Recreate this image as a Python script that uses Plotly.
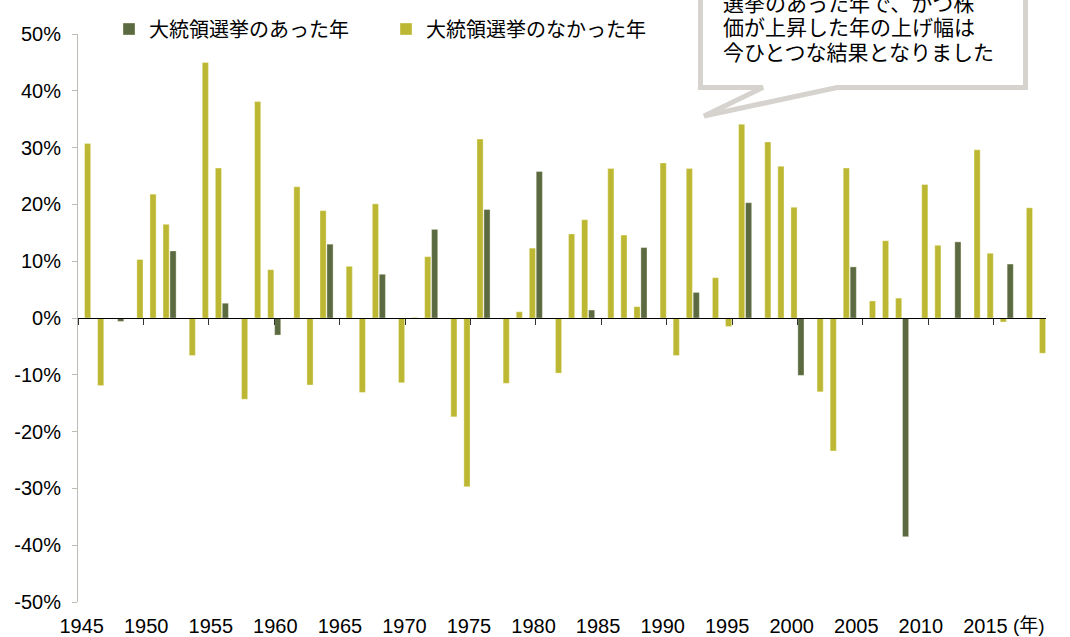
import plotly.graph_objects as go

# ---------------- data ----------------
years = list(range(1945, 2019))
# annual change of the index (%), 1945 .. 2018
returns = [30.7, -11.9, 0.0, -0.6, 10.3, 21.8, 16.5, 11.8, -6.6, 45.0,
           26.4, 2.6, -14.3, 38.1, 8.5, -3.0, 23.1, -11.8, 18.9, 13.0,
           9.1, -13.1, 20.1, 7.7, -11.4, 0.1, 10.8, 15.6, -17.4, -29.7,
           31.5, 19.1, -11.5, 1.1, 12.3, 25.8, -9.7, 14.8, 17.3, 1.4,
           26.3, 14.6, 2.0, 12.4, 27.3, -6.6, 26.3, 4.5, 7.1, -1.5,
           34.1, 20.3, 31.0, 26.7, 19.5, -10.1, -13.0, -23.4, 26.4, 9.0,
           3.0, 13.6, 3.5, -38.5, 23.5, 12.8, 0.0, 13.4, 29.6, 11.4,
           -0.7, 9.5, 19.4, -6.2]
election_years = [1948, 1952, 1956, 1960, 1964, 1968, 1972, 1976, 1980,
                  1984, 1988, 1992, 1996, 2000, 2004, 2008, 2012, 2016]
series_names = ["大統領選挙のあった年", "大統領選挙のなかった年"]
x_label_years = [1945, 1950, 1955, 1960, 1965, 1970, 1975, 1980, 1985,
                 1990, 1995, 2000, 2005, 2010, 2015]
y_tick_vals = [-50, -40, -30, -20, -10, 0, 10, 20, 30, 40, 50]
y_tick_text = ["-50%", "-40%", "-30%", "-20%", "-10%", "0%",
               "10%", "20%", "30%", "40%", "50%"]
callout_lines = ["選挙のあった年で、かつ株",
                 "価が上昇した年の上げ幅は",
                 "今ひとつな結果となりました"]
unit_label = "(年)"

election_vals = [r if y in election_years else None for y, r in zip(years, returns)]
other_vals = [None if y in election_years else r for y, r in zip(years, returns)]

# ---------------- style ----------------
W, H = 1070, 637
ML, MR, MT, MB = 78, 24, 34, 35
PW, PH = W - ML - MR, H - MT - MB
DARK = "#5B6A40"
YEL = "#BDB833"
FONT = "Liberation Sans, Noto Sans CJK JP, sans-serif"


def px(x):
    return (x - ML) / PW


def py(y):
    return (H - MB - y) / PH


fig = go.Figure()
fig.add_bar(x=years, y=election_vals, name=series_names[0],
            marker=dict(color=DARK, line=dict(color="rgba(255,255,235,0.6)", width=0.6)))
fig.add_bar(x=years, y=other_vals, name=series_names[1],
            marker=dict(color=YEL, line=dict(color="rgba(255,255,235,0.6)", width=0.6)))
# helper traces so the overlay axes are drawn
fig.add_scatter(x=[years[0]], y=[None], xaxis="x2", showlegend=False, hoverinfo="skip")
fig.add_scatter(x=[years[0]], y=[None], xaxis="x3", showlegend=False, hoverinfo="skip")

x_range = [years[0] - 0.5, years[-1] + 0.5]
lab_slope = 12.91
lab_range = [1945 - (81.7 - ML) / lab_slope, 1945 + (ML + PW - 81.7) / lab_slope]

fig.update_layout(
    width=W, height=H, autosize=False,
    margin=dict(l=ML, r=MR, t=MT, b=MB, autoexpand=False),
    paper_bgcolor="white", plot_bgcolor="white",
    font=dict(family=FONT, size=20, color="#000000"),
    barmode="group", bargap=0.06, bargroupgap=0.0,
    xaxis=dict(range=x_range, showticklabels=False, showline=False, ticks="",
               showgrid=False, zeroline=False, automargin=False),
    xaxis2=dict(overlaying="x", anchor="free", position=0.5, range=x_range,
                tickmode="array", tickvals=[y - 0.5 for y in x_label_years],
                ticks="outside", ticklen=6, tickcolor="#333333", tickwidth=1,
                showline=True, linecolor="#000000", linewidth=1.2,
                showticklabels=False, showgrid=False, zeroline=False,
                automargin=False),
    xaxis3=dict(overlaying="x", anchor="y", side="bottom", range=lab_range,
                tickmode="array", tickvals=x_label_years,
                ticktext=[str(v) for v in x_label_years],
                ticks="", showline=False, showgrid=False, zeroline=False,
                tickfont=dict(size=20, color="#000000"), ticklabelstandoff=10,
                automargin=False),
    yaxis=dict(range=[-50, 50], tickmode="array", tickvals=y_tick_vals,
               ticktext=y_tick_text, showgrid=False, zeroline=False,
               showline=True, linecolor="#BFBBB5", linewidth=1,
               ticks="outside", ticklen=5, tickcolor="#BFBBB5",
               tickfont=dict(size=20, color="#000000"), ticklabelstandoff=7,
               automargin=False),
    legend=dict(orientation="h", x=px(109), y=py(29), xanchor="left",
                yanchor="middle", font=dict(size=20, color="#000000"),
                entrywidth=232, bgcolor="rgba(0,0,0,0)", traceorder="normal"),
    showlegend=True,
)

# speech-bubble callout
pts = [(700.5, -12), (1025.5, -12), (1025.5, 87.5), (837, 87.5), (704, 116),
       (763, 87.5), (700.5, 87.5)]
path = "M " + " L ".join(f"{px(a):.5f},{py(b):.5f}" for a, b in pts) + " Z"
fig.add_shape(type="path", path=path, xref="paper", yref="paper",
              fillcolor="white", line=dict(color="#D6D3CE", width=5), layer="above")

for i, (txt, yc) in enumerate(zip(callout_lines, [3.5, 28, 52.5])):
    fig.add_annotation(text=txt, xref="paper", yref="paper", x=px(721), y=py(yc),
                       xanchor="left", yanchor="middle", showarrow=False,
                       font=dict(size=21, color="#000000"))

fig.add_annotation(text=unit_label, xref="paper", yref="paper", x=px(1011),
                   y=py(625), xanchor="left", yanchor="middle", showarrow=False,
                   font=dict(size=19, color="#000000"))

fig.write_html("out.html", config={"displayModeBar": False},
               post_script="document.body.style.margin='0px';")
